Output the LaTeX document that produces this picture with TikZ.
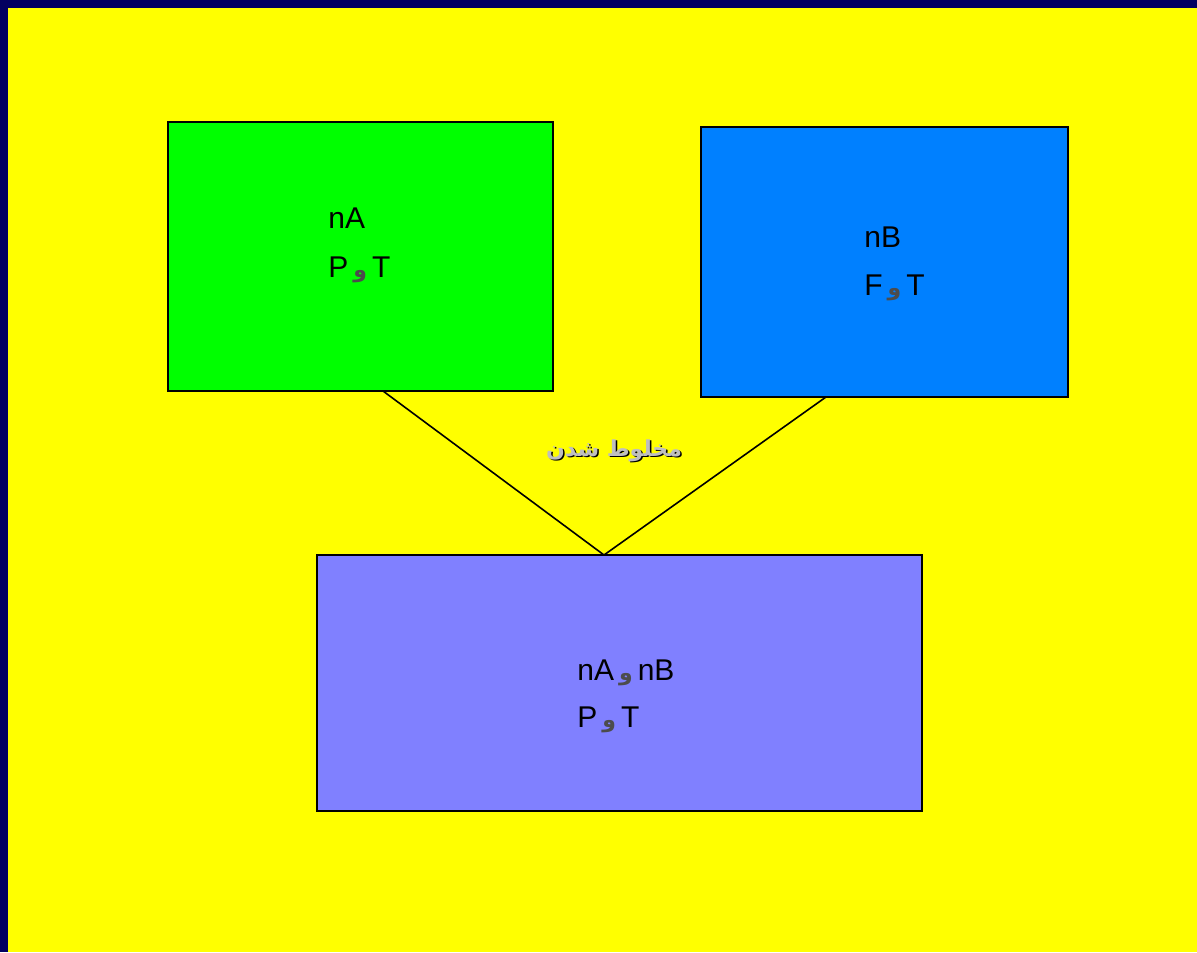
\documentclass[tikz,border=0pt]{standalone}
\usepackage{fontspec}
\setmainfont{Liberation Sans}
\newfontfamily\arabicfont[Script=Arabic]{DejaVu Sans}
\TeXXeTstate=1
\definecolor{navy}{RGB}{2,0,96}
\definecolor{bgyellow}{RGB}{255,255,0}
\definecolor{boxgreen}{RGB}{0,255,0}
\definecolor{boxblue}{RGB}{0,128,255}
\definecolor{boxpurple}{RGB}{128,128,255}
\newcommand{\va}{\,{\arabicfont\bfseries\fontsize{11pt}{11pt}\selectfont\color{black!70}و}\,}
\begin{document}
\begin{tikzpicture}[x=0.5pt,y=-0.5pt,
  box/.style={draw=black, line width=0.9pt, inner sep=0pt, outer sep=0pt},
  txt/.style={anchor=base west, inner sep=0pt, font=\fontsize{15pt}{15pt}\selectfont},
  link/.style={draw=black, line width=0.8pt}]
\fill[navy] (0,0) rectangle (1197,952);
\fill[bgyellow] (8,8) rectangle (1197,952);
\useasboundingbox (0,0) rectangle (1197,952);
\node[box, fill=boxgreen, minimum width=192.5pt, minimum height=134.5pt] (green) at (360.5,256.5) {};
\node[box, fill=boxblue, minimum width=183.5pt, minimum height=135pt] (blue) at (884.5,262) {};
\node[box, fill=boxpurple, minimum width=302.5pt, minimum height=128pt] (purple) at (619.5,683) {};
\coordinate (gb) at ([xshift=11.25pt]green.south);
\coordinate (bb) at ([xshift=-29.25pt]blue.south);
\coordinate (pt) at ([xshift=-7.75pt]purple.north);
\draw[link] (gb) -- (pt);
\draw[link] (bb) -- (pt);
\node[txt] (t1) at (328,228) {nA};
\node[txt] (t2) at (328,277) {P\va T};
\node[txt] (t3) at (864,247) {nB};
\node[txt] (t4) at (864,295) {F\va T};
\node[txt] (t5) at (577,680) {nA\va nB};
\node[txt] (t6) at (577,727) {P\va T};
\node[anchor=base, inner sep=0pt, font=\arabicfont\bfseries\fontsize{11pt}{11pt}\selectfont, text=black] (mixs) at (615.5,457) {\beginR مخلوط شدن\endR};
\node[anchor=base, inner sep=0pt, font=\arabicfont\bfseries\fontsize{11pt}{11pt}\selectfont, text=black!25] (mix) at (614,456) {\beginR مخلوط شدن\endR};
\end{tikzpicture}
\end{document}
